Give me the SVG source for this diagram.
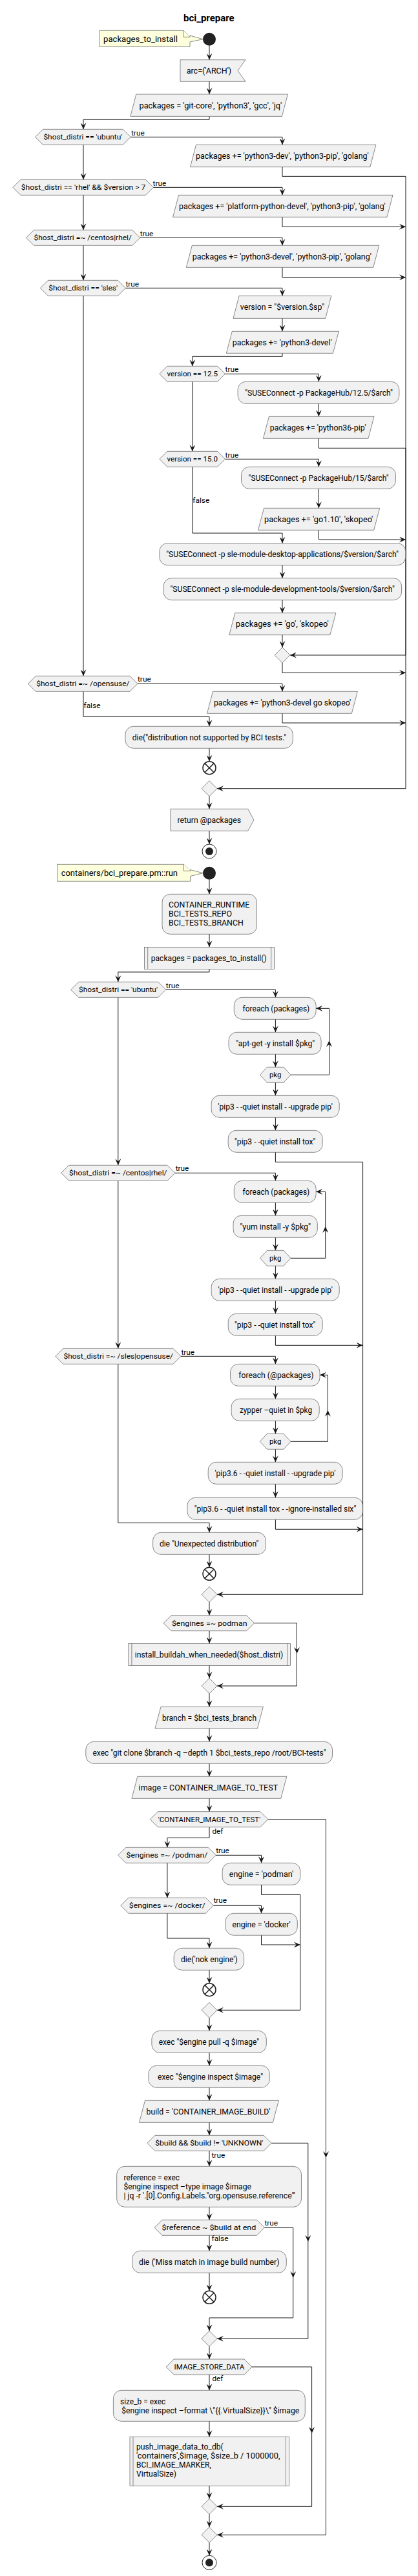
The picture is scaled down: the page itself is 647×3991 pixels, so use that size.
<svg xmlns="http://www.w3.org/2000/svg" width="647" height="3991" viewBox="0 0 647 3991">
<style>
.n{fill:#F1F1F1;stroke:#181818;stroke-width:0.5}
.note{fill:#FEFFDD;stroke:#181818;stroke-width:0.5}
.c{fill:none;stroke:#181818;stroke-width:1;marker-end:url(#a)}
.t{font-family:Roboto,"Liberation Sans",sans-serif;font-size:12px;fill:#000}
.d{font-size:11px}
.l{font-family:Roboto,"Liberation Sans",sans-serif;font-size:11px;fill:#000}
.nt{font-size:13px}
.ah{fill:#181818}
.st{fill:#222222}
.x{fill:none;stroke:#222222;stroke-width:1.5}
.e{fill:none;stroke:#222222;stroke-width:1}
</style>
<defs>
<marker id="a" markerUnits="userSpaceOnUse" markerWidth="10" markerHeight="9" refX="10" refY="4.5" orient="auto" viewBox="0 0 10 9"><path d="M0,0 L10,4.5 L0,9 L4,4.5 Z" fill="#181818"/></marker>
<path id="ah" class="ah" d="M-4.5,-10 L0,0 L4.5,-10 L0,-6 Z"/>
</defs>
<rect width="647" height="3991" fill="#FFFFFF"/>
<text class="t" x="284.1" y="33" font-size="14" font-weight="bold" textLength="78.6" lengthAdjust="spacingAndGlyphs" style="font-size:14px">bci_prepare</text>

<g id="connectors">
<path class="c" d="M324,70.7 V92.7"/>
<path class="c" d="M324,126.3 V146"/>
<path class="c" d="M324,180.3 V185.3 H129 V200.3"/>
<path class="c" d="M202.2,212.3 H437 V224.3"/>
<path class="c" d="M437,258.7 V273.3 H628 V1221.7 H336"/>
<path class="c" d="M129,224.3 V278.3"/>
<path class="c" d="M237.4,290.3 H437 V302.3"/>
<path class="c" d="M437,336.3 V351.3 H628"/>
<path class="c" d="M129,302.3 V356.3"/>
<path class="c" d="M216.7,368.3 H437 V380.3"/>
<path class="c" d="M437,414.3 V429.7 H628"/>
<path class="c" d="M129,380.3 V434.3"/>
<path class="c" d="M194.4,446.3 H437 V458.3"/>
<path class="c" d="M437,493.3 V513.3"/>
<path class="c" d="M437,547.3 V552.3 H297.8 V567.3"/>
<path class="c" d="M348.6,579.3 H493.4 V591.3"/>
<path class="c" d="M493.4,625.3 V645.3"/>
<path class="c" d="M493.4,679.3 V694.3 H628 V1015 H449"/>
<path class="c" d="M297.8,591.3 V699.3"/>
<path class="c" d="M348.6,711.3 H493.4 V723.3"/>
<path class="c" d="M493.4,757.3 V787.3"/>
<path class="c" d="M493.4,821.3 V836 H628"/>
<path class="c" d="M297.8,723.3 V826 H437 V841.7"/>
<path class="c" d="M437,875.7 V895.7"/>
<path class="c" d="M437,929.7 V949.7"/>
<path class="c" d="M437,983.7 V1003"/>
<path class="c" d="M437,1027 V1042.3 H628"/>
<path class="c" d="M129,458.3 V1047.3"/>
<path class="c" d="M213,1059.3 H437 V1071.3"/>
<path class="c" d="M437,1105.3 V1120 H628"/>
<path class="c" d="M129,1071.3 V1110.3 H324 V1125.3"/>
<path class="c" d="M324,1159.3 V1179.7"/>
<path class="c" d="M324,1233.7 V1253.3"/>
<path class="c" d="M324,1287.3 V1308"/>

<path class="c" d="M324,1362.7 V1385.3"/>
<path class="c" d="M324,1447.3 V1467.3"/>
<path class="c" d="M324,1501.3 V1506 H182.8 V1521.3"/>
<path class="c" d="M256.8,1533.3 H426.4 V1545.3"/>
<path class="c" d="M426.4,1579.3 V1599.3"/>
<path class="c" d="M426.4,1633.3 V1653.3"/>
<path class="c" d="M450,1665.3 H509.5 V1562.3 H489.2"/>
<path class="c" d="M426.4,1677.3 V1697.3"/>
<path class="c" d="M426.4,1731.3 V1751.3"/>
<path class="c" d="M426.4,1785.3 V1800.3 H561.6 V2470.3 H336"/>
<path class="c" d="M182.8,1545.3 V1805.3"/>
<path class="c" d="M270.9,1817.3 H426.4 V1829.3"/>
<path class="c" d="M426.4,1863.3 V1883.3"/>
<path class="c" d="M426.4,1917.3 V1937.3"/>
<path class="c" d="M450,1949.3 H503.7 V1846.3 H489.2"/>
<path class="c" d="M426.4,1961.3 V1981.3"/>
<path class="c" d="M426.4,2015.3 V2035.3"/>
<path class="c" d="M426.4,2069.3 V2084.3 H561.6"/>
<path class="c" d="M182.8,1829.3 V2089.3"/>
<path class="c" d="M280,2101.3 H426.4 V2113.3"/>
<path class="c" d="M426.4,2147.3 V2167.3"/>
<path class="c" d="M426.4,2201.3 V2221.3"/>
<path class="c" d="M450,2233.3 H507.4 V2130.3 H495"/>
<path class="c" d="M426.4,2245.3 V2265.3"/>
<path class="c" d="M426.4,2299.3 V2320.3"/>
<path class="c" d="M426.4,2354.3 V2369.3 H561.6"/>
<path class="c" d="M182.8,2113.3 V2359.3 H324 V2374.3"/>
<path class="c" d="M324,2408.3 V2428.3"/>
<path class="c" d="M324,2482.3 V2502.7"/>
<path class="c" d="M393.7,2514.7 H459.5 V2612 H336"/>
<path class="c" d="M324,2526.7 V2546.3"/>
<path class="c" d="M324,2580.3 V2600"/>
<path class="c" d="M324,2624 V2644.3"/>
<path class="c" d="M324,2678 V2698.3"/>
<path class="c" d="M324,2732.3 V2752.3"/>
<path class="c" d="M324,2786.3 V2806.7"/>
<path class="c" d="M414.8,2818.7 H504.5 V3927.3 H336"/>
<path class="c" d="M324,2830.7 V2847.3 H258.9 V2862.3"/>
<path class="c" d="M334.2,2874.3 H404.5 V2886.3"/>
<path class="c" d="M404.5,2920.3 V2935.3 H464.8 V3114.3 H336"/>
<path class="c" d="M258.9,2886.3 V2940.3"/>
<path class="c" d="M330.4,2952.3 H404.5 V2964.3"/>
<path class="c" d="M404.5,2998.3 V3013 H464.8"/>
<path class="c" d="M258.9,2964.3 V3003 H324 V3018.3"/>
<path class="c" d="M324,3052.3 V3072.7"/>
<path class="c" d="M324,3126.3 V3146.3"/>
<path class="c" d="M324,3180.3 V3200.3"/>
<path class="c" d="M324,3234.3 V3254.3"/>
<path class="c" d="M324,3288.3 V3308.3"/>
<path class="c" d="M420.2,3320.3 H476.8 V3623.3 H336"/>
<path class="c" d="M324,3332.3 V3356.3"/>
<path class="c" d="M324,3419.3 V3439.3"/>
<path class="c" d="M409.4,3451.3 H453.7 V3591 H324 V3611.3"/>
<path class="c" d="M324,3463.3 V3487.3"/>
<path class="c" d="M324,3521.3 V3549.3"/>
<path class="c" d="M324,3635.3 V3655"/>
<path class="c" d="M390,3667 H482.6 V3883.3 H336"/>
<path class="c" d="M324,3679 V3703.3"/>
<path class="c" d="M324,3751.3 V3775.3"/>
<path class="c" d="M324,3851.3 V3871.3"/>
<path class="c" d="M324,3895.3 V3915.3"/>
<path class="c" d="M324,3939.3 V3959.3"/>
<use href="#ah" transform="translate(509.5,1612) rotate(180)"/>
<use href="#ah" transform="translate(503.7,1900) rotate(180)"/>
<use href="#ah" transform="translate(507.4,2184.7) rotate(180)"/>
<use href="#ah" transform="translate(459.5,2562)"/>
<use href="#ah" transform="translate(504.5,3343)"/>
<use href="#ah" transform="translate(476.8,3473)"/>
<use href="#ah" transform="translate(453.7,3529)"/>
<use href="#ah" transform="translate(482.6,3770)"/>
<text class="l" x="203" y="210" textLength="20.7" lengthAdjust="spacingAndGlyphs">true</text>
<text class="l" x="236.6" y="288" textLength="20.7" lengthAdjust="spacingAndGlyphs">true</text>
<text class="l" x="216.7" y="365.7" textLength="20.7" lengthAdjust="spacingAndGlyphs">true</text>
<text class="l" x="194.4" y="443.7" textLength="20.7" lengthAdjust="spacingAndGlyphs">true</text>
<text class="l" x="348.6" y="575.7" textLength="20.7" lengthAdjust="spacingAndGlyphs">true</text>
<text class="l" x="348.6" y="708.7" textLength="20.7" lengthAdjust="spacingAndGlyphs">true</text>
<text class="l" x="298.3" y="778.7" textLength="26" lengthAdjust="spacingAndGlyphs">false</text>
<text class="l" x="213" y="1056.3" textLength="20.7" lengthAdjust="spacingAndGlyphs">true</text>
<text class="l" x="129.5" y="1096.7" textLength="26" lengthAdjust="spacingAndGlyphs">false</text>
<text class="l" x="256.8" y="1530.7" textLength="20.7" lengthAdjust="spacingAndGlyphs">true</text>
<text class="l" x="271.7" y="1814.3" textLength="20.7" lengthAdjust="spacingAndGlyphs">true</text>
<text class="l" x="280.4" y="2098.7" textLength="20.7" lengthAdjust="spacingAndGlyphs">true</text>
<text class="l" x="328.4" y="2840.7" textLength="17" lengthAdjust="spacingAndGlyphs">def</text>
<text class="l" x="334.2" y="2870.7" textLength="20.7" lengthAdjust="spacingAndGlyphs">true</text>
<text class="l" x="330.4" y="2948.3" textLength="20.7" lengthAdjust="spacingAndGlyphs">true</text>
<text class="l" x="327.5" y="3342.7" textLength="20.7" lengthAdjust="spacingAndGlyphs">true</text>
<text class="l" x="409.4" y="3447.7" textLength="20.7" lengthAdjust="spacingAndGlyphs">true</text>
<text class="l" x="327.5" y="3472.3" textLength="26" lengthAdjust="spacingAndGlyphs">false</text>
<text class="l" x="328.4" y="3688.7" textLength="17" lengthAdjust="spacingAndGlyphs">def</text>
</g>

<g id="note1"><path class="note" d="M154,47.3 H284 L294,57.3 V55 L314,60.7 L294,65 V72.3 H154 Z"/><path class="note" d="M284,47.3 V57.3 H294" fill="none"/><text class="t nt" x="160" y="64.5" textLength="115" lengthAdjust="spacingAndGlyphs">packages_to_install</text></g>
<g id="start1"><circle class="st" cx="324" cy="60.7" r="10"/></g>
<g id="arc"><polygon class="n" points="279,92.7 380,92.7 368,109.5 380,126.3 279,126.3"/><text class="t" x="288.7" y="114" textLength="69.5" lengthAdjust="spacingAndGlyphs">arc=('ARCH')</text></g>
<g id="pk0"><polygon class="n" points="210.8,146 445.4,146 436.4,180.3 201.8,180.3"/><text class="t" x="215.5" y="167.7" textLength="220.8" lengthAdjust="spacingAndGlyphs">packages = 'git-core', 'python3', 'gcc', 'jq'</text></g>
<g id="d1"><polygon class="n" points="54.6,212.3 66.6,200.3 190.2,200.3 202.2,212.3 190.2,224.3 66.6,224.3"/><text class="t d" x="67.4" y="216.1" textLength="122" lengthAdjust="spacingAndGlyphs">$host_distri == 'ubuntu'</text></g>
<g id="pk1"><polygon class="n" points="303.5,224.3 581.9,224.3 572.9,258.7 294.5,258.7"/><text class="t" x="303.1" y="246" textLength="267.6" lengthAdjust="spacingAndGlyphs">packages += 'python3-dev', 'python3-pip', 'golang'</text></g>
<g id="d2"><polygon class="n" points="19.9,290.3 31.9,278.3 225.4,278.3 237.4,290.3 225.4,302.3 31.9,302.3"/><text class="t d" x="32.7" y="294.1" textLength="192.7" lengthAdjust="spacingAndGlyphs">$host_distri == 'rhel' &amp;&amp; $version &gt; 7</text></g>
<g id="pk2"><polygon class="n" points="276.6,302.3 608,302.3 599,336.3 267.6,336.3"/><text class="t" x="277.1" y="323.8" textLength="319.7" lengthAdjust="spacingAndGlyphs">packages += 'platform-python-devel', 'python3-pip', 'golang'</text></g>
<g id="d3"><polygon class="n" points="40.5,368.3 52.5,356.3 204.7,356.3 216.7,368.3 204.7,380.3 52.5,380.3"/><text class="t d" x="52.5" y="372.1" textLength="151.4" lengthAdjust="spacingAndGlyphs">$host_distri =~ /centos|rhel/</text></g>
<g id="pk3"><polygon class="n" points="297.3,380.3 586.8,380.3 577.8,414.3 288.3,414.3"/><text class="t" x="297.8" y="401.8" textLength="277.1" lengthAdjust="spacingAndGlyphs">packages += 'python3-devel', 'python3-pip', 'golang'</text></g>
<g id="d4"><polygon class="n" points="62.4,446.3 74.4,434.3 182.4,434.3 194.4,446.3 182.4,458.3 74.4,458.3"/><text class="t d" x="75.3" y="450.1" textLength="106.7" lengthAdjust="spacingAndGlyphs">$host_distri == 'sles'</text></g>
<g id="ver"><polygon class="n" points="370,458.3 512.8,458.3 503.8,493.3 361,493.3"/><text class="t" x="371.8" y="480.3" textLength="130.3" lengthAdjust="spacingAndGlyphs">version = "$version.$sp"</text></g>
<g id="pk4"><polygon class="n" points="359.3,513.3 524.4,513.3 515.4,547.3 350.3,547.3"/><text class="t" x="359.8" y="534.8" textLength="153.8" lengthAdjust="spacingAndGlyphs">packages += 'python3-devel'</text></g>
<g id="v1"><polygon class="n" points="246.9,579.3 258.9,567.3 336.6,567.3 348.6,579.3 336.6,591.3 258.9,591.3"/><text class="t d" x="258.5" y="583.1" textLength="78.6" lengthAdjust="spacingAndGlyphs">version == 12.5</text></g>
<g id="s1"><rect class="n" x="368.1" y="591.3" width="249.8" height="34" rx="12.5"/><text class="t" x="379.2" y="612.8" textLength="228.7" lengthAdjust="spacingAndGlyphs">"SUSEConnect -p PackageHub/12.5/$arch"</text></g>
<g id="pk5"><polygon class="n" points="416.4,645.3 579,645.3 570,679.3 407.4,679.3"/><text class="t" x="417.7" y="666.8" textLength="148.9" lengthAdjust="spacingAndGlyphs">packages += 'python36-pip'</text></g>
<g id="v2"><polygon class="n" points="246.9,711.3 258.9,699.3 336.6,699.3 348.6,711.3 336.6,723.3 258.9,723.3"/><text class="t d" x="258.5" y="715.1" textLength="78.6" lengthAdjust="spacingAndGlyphs">version == 15.0</text></g>
<g id="s2"><rect class="n" x="373.5" y="723.3" width="239" height="34" rx="12.5"/><text class="t" x="384.6" y="744.8" textLength="217.1" lengthAdjust="spacingAndGlyphs">"SUSEConnect -p PackageHub/15/$arch"</text></g>
<g id="pk6"><polygon class="n" points="408.5,787.3 587.7,787.3 578.7,821.3 399.5,821.3"/><text class="t" x="409" y="808.8" textLength="168.3" lengthAdjust="spacingAndGlyphs">packages += 'go1.10', 'skopeo'</text></g>
<g id="s3"><rect class="n" x="246.9" y="841.7" width="380.9" height="34" rx="12.5"/><text class="t" x="257.2" y="863.2" textLength="359.8" lengthAdjust="spacingAndGlyphs">"SUSEConnect -p sle-module-desktop-applications/$version/$arch"</text></g>
<g id="s4"><rect class="n" x="253.1" y="895.7" width="368.5" height="34" rx="12.5"/><text class="t" x="263.4" y="917.2" textLength="347.4" lengthAdjust="spacingAndGlyphs">"SUSEConnect -p sle-module-development-tools/$version/$arch"</text></g>
<g id="pk7"><polygon class="n" points="363.8,949.7 519.9,949.7 510.9,983.7 354.8,983.7"/><text class="t" x="364.8" y="971.2" textLength="143.9" lengthAdjust="spacingAndGlyphs">packages += 'go', 'skopeo'</text></g>
<g id="m1"><polygon class="n" points="437,1003 449,1015 437,1027 425,1015"/></g>
<g id="d5"><polygon class="n" points="43.4,1059.3 55.4,1047.3 201,1047.3 213,1059.3 201,1071.3 55.4,1071.3"/><text class="t d" x="56.2" y="1063.1" textLength="144.3" lengthAdjust="spacingAndGlyphs">$host_distri =~ /opensuse/</text></g>
<g id="pk8"><polygon class="n" points="329.5,1071.3 553.4,1071.3 544.4,1105.3 320.5,1105.3"/><text class="t" x="330.9" y="1092.8" textLength="212.2" lengthAdjust="spacingAndGlyphs">packages += 'python3-devel go skopeo'</text></g>
<g id="die1"><rect class="n" x="194" y="1125.3" width="259.3" height="34" rx="12.5"/><text class="t" x="204.7" y="1146.8" textLength="238.6" lengthAdjust="spacingAndGlyphs">die("distribution not supported by BCI tests."</text></g>
<g id="x1"><circle class="x" cx="324" cy="1189.7" r="10"/><path class="x" d="M316.9,1182.6 L331.1,1196.8 M331.1,1182.6 L316.9,1196.8"/></g>
<g id="m2"><polygon class="n" points="324,1209.7 336,1221.7 324,1233.7 312,1221.7"/></g>
<g id="ret"><polygon class="n" points="263.9,1253.3 383.8,1253.3 392.9,1270.3 383.8,1287.3 263.9,1287.3"/><text class="t" x="274.6" y="1274.8" textLength="98.4" lengthAdjust="spacingAndGlyphs">return @packages</text></g>
<g id="end1"><circle class="e" cx="324" cy="1319" r="11"/><circle class="st" cx="324" cy="1319" r="6"/></g>

<g id="note2"><path class="note" d="M88.5,1339.3 H284.5 L294.5,1349.3 V1347.5 L314,1352.7 L294.5,1357.5 V1365.3 H88.5 Z"/><path class="note" d="M284.5,1339.3 V1349.3 H294.5" fill="none"/><text class="t nt" x="94.7" y="1357" textLength="180.3" lengthAdjust="spacingAndGlyphs">containers/bci_prepare.pm::run</text></g>
<g id="start2"><circle class="st" cx="324" cy="1352.7" r="10"/></g>
<g id="cr"><rect class="n" x="251" y="1385.3" width="146.4" height="62" rx="12.5"/><text class="t" x="261" y="1406" textLength="125.3" lengthAdjust="spacingAndGlyphs">CONTAINER_RUNTIME</text><text class="t" x="261" y="1420" textLength="98" lengthAdjust="spacingAndGlyphs">BCI_TESTS_REPO</text><text class="t" x="261" y="1434" textLength="115.8" lengthAdjust="spacingAndGlyphs">BCI_TESTS_BRANCH</text></g>
<g id="sub1"><rect class="n" x="223.7" y="1467.3" width="201" height="34"/><path class="n" d="M228.7,1467.3 V1501.3 M419.7,1467.3 V1501.3"/><text class="t" x="233.7" y="1488.8" textLength="179" lengthAdjust="spacingAndGlyphs">packages = packages_to_install()</text></g>
<g id="e1"><polygon class="n" points="109.6,1533.3 121.6,1521.3 244.8,1521.3 256.8,1533.3 244.8,1545.3 121.6,1545.3"/><text class="t d" x="122" y="1537.1" textLength="122" lengthAdjust="spacingAndGlyphs">$host_distri == 'ubuntu'</text></g>
<g id="fe1"><rect class="n" x="362.3" y="1545.3" width="126.9" height="34" rx="12.5"/><text class="t" x="375.5" y="1566.8" textLength="103.8" lengthAdjust="spacingAndGlyphs">foreach (packages)</text></g>
<g id="apt"><rect class="n" x="354" y="1599.3" width="143.1" height="34" rx="12.5"/><text class="t" x="365.2" y="1620.8" textLength="122" lengthAdjust="spacingAndGlyphs">"apt-get -y install $pkg"</text></g>
<g id="pkg1"><polygon class="n" points="402.4,1665.3 413.4,1653.3 439,1653.3 450,1665.3 439,1677.3 413.4,1677.3"/><text class="t d" x="416.9" y="1669.1" textLength="18.6" lengthAdjust="spacingAndGlyphs">pkg</text></g>
<g id="pipa"><rect class="n" x="327.1" y="1697.3" width="198.1" height="34" rx="12.5"/><text class="t" x="337.5" y="1718.8" textLength="177.4" lengthAdjust="spacingAndGlyphs">'pip3 - -quiet install - -upgrade pip'</text></g>
<g id="toxa"><rect class="n" x="353.2" y="1751.3" width="146" height="34" rx="12.5"/><text class="t" x="363.1" y="1772.8" textLength="125.3" lengthAdjust="spacingAndGlyphs">"pip3 - -quiet install tox"</text></g>
<g id="e2"><polygon class="n" points="94.7,1817.3 106.7,1805.3 258.9,1805.3 270.9,1817.3 258.9,1829.3 106.7,1829.3"/><text class="t d" x="107.1" y="1821.1" textLength="151.4" lengthAdjust="spacingAndGlyphs">$host_distri =~ /centos|rhel/</text></g>
<g id="fe2"><rect class="n" x="362.3" y="1829.3" width="126.9" height="34" rx="12.5"/><text class="t" x="375.5" y="1850.8" textLength="103.8" lengthAdjust="spacingAndGlyphs">foreach (packages)</text></g>
<g id="yum"><rect class="n" x="361" y="1883.3" width="130.3" height="34" rx="12.5"/><text class="t" x="371.4" y="1904.8" textLength="109.6" lengthAdjust="spacingAndGlyphs">"yum install -y $pkg"</text></g>
<g id="pkg2"><polygon class="n" points="402.4,1949.3 413.4,1937.3 439,1937.3 450,1949.3 439,1961.3 413.4,1961.3"/><text class="t d" x="416.9" y="1953.1" textLength="18.6" lengthAdjust="spacingAndGlyphs">pkg</text></g>
<g id="pipb"><rect class="n" x="327.1" y="1981.3" width="198.1" height="34" rx="12.5"/><text class="t" x="337.5" y="2002.8" textLength="177.4" lengthAdjust="spacingAndGlyphs">'pip3 - -quiet install - -upgrade pip'</text></g>
<g id="toxb"><rect class="n" x="353.2" y="2035.3" width="146" height="34" rx="12.5"/><text class="t" x="363.1" y="2056.8" textLength="125.3" lengthAdjust="spacingAndGlyphs">"pip3 - -quiet install tox"</text></g>
<g id="e3"><polygon class="n" points="85.6,2101.3 97.6,2089.3 268,2089.3 280,2101.3 268,2113.3 97.6,2113.3"/><text class="t d" x="98.4" y="2105.1" textLength="169.6" lengthAdjust="spacingAndGlyphs">$host_distri =~ /sles|opensuse/</text></g>
<g id="fe3"><rect class="n" x="356.5" y="2113.3" width="138.5" height="34" rx="12.5"/><text class="t" x="369.3" y="2134.8" textLength="116.2" lengthAdjust="spacingAndGlyphs">foreach (@packages)</text></g>
<g id="zyp"><rect class="n" x="358.1" y="2167.3" width="136.1" height="34" rx="12.5"/><text class="t" x="371" y="2188.8" textLength="112" lengthAdjust="spacingAndGlyphs">zypper –quiet in $pkg</text></g>
<g id="pkg3"><polygon class="n" points="402.4,2233.3 413.4,2221.3 439,2221.3 450,2233.3 439,2245.3 413.4,2245.3"/><text class="t d" x="416.9" y="2237.1" textLength="18.6" lengthAdjust="spacingAndGlyphs">pkg</text></g>
<g id="pipc"><rect class="n" x="322.2" y="2265.3" width="208" height="34" rx="12.5"/><text class="t" x="332.5" y="2286.8" textLength="186.9" lengthAdjust="spacingAndGlyphs">'pip3.6 - -quiet install - -upgrade pip'</text></g>
<g id="toxc"><rect class="n" x="289.9" y="2320.3" width="271.7" height="34" rx="12.5"/><text class="t" x="300.7" y="2341.8" textLength="250.6" lengthAdjust="spacingAndGlyphs">"pip3.6 - -quiet install tox - -ignore-installed six"</text></g>
<g id="die2"><rect class="n" x="236.6" y="2374.3" width="174.9" height="34" rx="12.5"/><text class="t" x="246.9" y="2395.8" textLength="153.4" lengthAdjust="spacingAndGlyphs">die "Unexpected distribution"</text></g>
<g id="x2"><circle class="x" cx="324" cy="2438.3" r="10"/><path class="x" d="M316.9,2431.2 L331.1,2445.4 M331.1,2431.2 L316.9,2445.4"/></g>
<g id="m3"><polygon class="n" points="324,2458.3 336,2470.3 324,2482.3 312,2470.3"/></g>
<g id="p1"><polygon class="n" points="253.1,2514.7 265.1,2502.7 381.7,2502.7 393.7,2514.7 381.7,2526.7 265.1,2526.7"/><text class="t d" x="265.9" y="2518.5" textLength="116.6" lengthAdjust="spacingAndGlyphs">$engines =~ podman</text></g>
<g id="sub2"><rect class="n" x="198.9" y="2546.3" width="250.6" height="34"/><path class="n" d="M203.9,2546.3 V2580.3 M444.5,2546.3 V2580.3"/><text class="t" x="208.8" y="2567.8" textLength="229.5" lengthAdjust="spacingAndGlyphs">install_buildah_when_needed($host_distri)</text></g>
<g id="m4"><polygon class="n" points="324,2600 336,2612 324,2624 312,2612"/></g>
<g id="br"><polygon class="n" points="249,2644.3 407.4,2644.3 398.4,2678 239.9,2678"/><text class="t" x="251" y="2665.7" textLength="146" lengthAdjust="spacingAndGlyphs">branch = $bci_tests_branch</text></g>
<g id="git"><rect class="n" x="132.8" y="2698.3" width="381.7" height="34" rx="12.5"/><text class="t" x="143.5" y="2719.8" textLength="361" lengthAdjust="spacingAndGlyphs">exec "git clone $branch -q –depth 1 $bci_tests_repo /root/BCI-tests"</text></g>
<g id="img"><polygon class="n" points="212.9,2752.3 443.8,2752.3 434.8,2786.3 203.9,2786.3"/><text class="t" x="214.6" y="2773.8" textLength="215.5" lengthAdjust="spacingAndGlyphs">image = CONTAINER_IMAGE_TO_TEST</text></g>
<g id="c1"><polygon class="n" points="232.4,2818.7 244.4,2806.7 402.8,2806.7 414.8,2818.7 402.8,2830.7 244.4,2830.7"/><text class="t d" x="244.8" y="2822.5" textLength="158.4" lengthAdjust="spacingAndGlyphs">'CONTAINER_IMAGE_TO_TEST'</text></g>
<g id="p2"><polygon class="n" points="182.8,2874.3 194.8,2862.3 322.2,2862.3 334.2,2874.3 322.2,2886.3 194.8,2886.3"/><text class="t d" x="195.6" y="2878.1" textLength="125.7" lengthAdjust="spacingAndGlyphs">$engines =~ /podman/</text></g>
<g id="ep"><rect class="n" x="344.1" y="2886.3" width="120.7" height="34" rx="12.5"/><text class="t" x="354.8" y="2907.8" textLength="99.3" lengthAdjust="spacingAndGlyphs">engine = 'podman'</text></g>
<g id="p3"><polygon class="n" points="186.9,2952.3 198.9,2940.3 318.4,2940.3 330.4,2952.3 318.4,2964.3 198.9,2964.3"/><text class="t d" x="199.8" y="2956.1" textLength="117.9" lengthAdjust="spacingAndGlyphs">$engines =~ /docker/</text></g>
<g id="ed"><rect class="n" x="349" y="2964.3" width="111.3" height="34" rx="12.5"/><text class="t" x="359.4" y="2985.8" textLength="90.2" lengthAdjust="spacingAndGlyphs">engine = 'docker'</text></g>
<g id="die3"><rect class="n" x="269.2" y="3018.3" width="108.4" height="34" rx="12.5"/><text class="t" x="280" y="3039.8" textLength="87.7" lengthAdjust="spacingAndGlyphs">die('nok engine')</text></g>
<g id="x3"><circle class="x" cx="324" cy="3082.7" r="10"/><path class="x" d="M316.9,3075.6 L331.1,3089.8 M331.1,3075.6 L316.9,3089.8"/></g>
<g id="m5"><polygon class="n" points="324,3102.3 336,3114.3 324,3126.3 312,3114.3"/></g>
<g id="pull"><rect class="n" x="234.9" y="3146.3" width="177.4" height="34" rx="12.5"/><text class="t" x="245.7" y="3167.8" textLength="155.5" lengthAdjust="spacingAndGlyphs">exec "$engine pull -q $image"</text></g>
<g id="insp"><rect class="n" x="229.9" y="3200.3" width="187.4" height="34" rx="12.5"/><text class="t" x="244" y="3221.8" textLength="163" lengthAdjust="spacingAndGlyphs">exec "$engine inspect $image"</text></g>
<g id="bld"><polygon class="n" points="224.5,3254.3 431.4,3254.3 422.4,3288.3 215.5,3288.3"/><text class="t" x="226.6" y="3275.8" textLength="191.9" lengthAdjust="spacingAndGlyphs">build = 'CONTAINER_IMAGE_BUILD'</text></g>
<g id="b1"><polygon class="n" points="227.9,3320.3 239.9,3308.3 408.2,3308.3 420.2,3320.3 408.2,3332.3 239.9,3332.3"/><text class="t d" x="240.3" y="3324.1" textLength="167.1" lengthAdjust="spacingAndGlyphs">$build &amp;&amp; $build != 'UNKNOWN'</text></g>
<g id="ref"><rect class="n" x="180.7" y="3356.3" width="285.8" height="63" rx="12.5"/><text class="t" x="191.5" y="3377.7" textLength="86.4" lengthAdjust="spacingAndGlyphs">reference = exec</text><text class="t" x="191.5" y="3391.7" textLength="197.3" lengthAdjust="spacingAndGlyphs">$engine inspect –type image $image</text><text class="t" x="191.5" y="3405.7" textLength="265.5" lengthAdjust="spacingAndGlyphs">| jq -r '.[0].Config.Labels."org.opensuse.reference"'</text></g>
<g id="r1"><polygon class="n" points="239,3451.3 251,3439.3 397.4,3439.3 409.4,3451.3 397.4,3463.3 251,3463.3"/><text class="t d" x="250.6" y="3455.1" textLength="145.6" lengthAdjust="spacingAndGlyphs">$reference ~ $build at end</text></g>
<g id="die4"><rect class="n" x="204.7" y="3487.3" width="238.6" height="34" rx="12.5"/><text class="t" x="215" y="3508.8" textLength="217.5" lengthAdjust="spacingAndGlyphs">die ('Miss match in image build number)</text></g>
<g id="x4"><circle class="x" cx="324" cy="3559.3" r="10"/><path class="x" d="M316.9,3552.2 L331.1,3566.4 M331.1,3552.2 L316.9,3566.4"/></g>
<g id="m6"><polygon class="n" points="324,3611.3 336,3623.3 324,3635.3 312,3623.3"/></g>
<g id="i1"><polygon class="n" points="257.2,3667 269.2,3655 378,3655 390,3667 378,3679 269.2,3679"/><text class="t d" x="269.6" y="3670.8" textLength="108.8" lengthAdjust="spacingAndGlyphs">IMAGE_STORE_DATA</text></g>
<g id="sz"><rect class="n" x="175.4" y="3703.3" width="296.9" height="48" rx="12.5"/><text class="t" x="186" y="3724.7" textLength="70.3" lengthAdjust="spacingAndGlyphs">size_b = exec</text><text class="t" x="188.2" y="3738.7" textLength="275" lengthAdjust="spacingAndGlyphs">$engine inspect –format \"{{.VirtualSize}}\" $image</text></g>
<g id="sub3"><rect class="n" x="201" y="3775.3" width="246.5" height="76"/><path class="n" d="M206,3775.3 V3851.3 M442.5,3775.3 V3851.3"/><text class="t" x="211" y="3795.3" textLength="134.8" lengthAdjust="spacingAndGlyphs">push_image_data_to_db(</text><text class="t" x="211" y="3809.3" textLength="222.5" lengthAdjust="spacingAndGlyphs">'containers',$image, $size_b  / 1000000,</text><text class="t" x="211" y="3823.3" textLength="115.8" lengthAdjust="spacingAndGlyphs">BCI_IMAGE_MARKER,</text><text class="t" x="211" y="3837.3" textLength="62" lengthAdjust="spacingAndGlyphs">VirtualSize)</text></g>
<g id="m7"><polygon class="n" points="324,3871.3 336,3883.3 324,3895.3 312,3883.3"/></g>
<g id="m8"><polygon class="n" points="324,3915.3 336,3927.3 324,3939.3 312,3927.3"/></g>
<g id="end2"><circle class="e" cx="324" cy="3970.3" r="11"/><circle class="st" cx="324" cy="3970.3" r="6"/></g>
</svg>
